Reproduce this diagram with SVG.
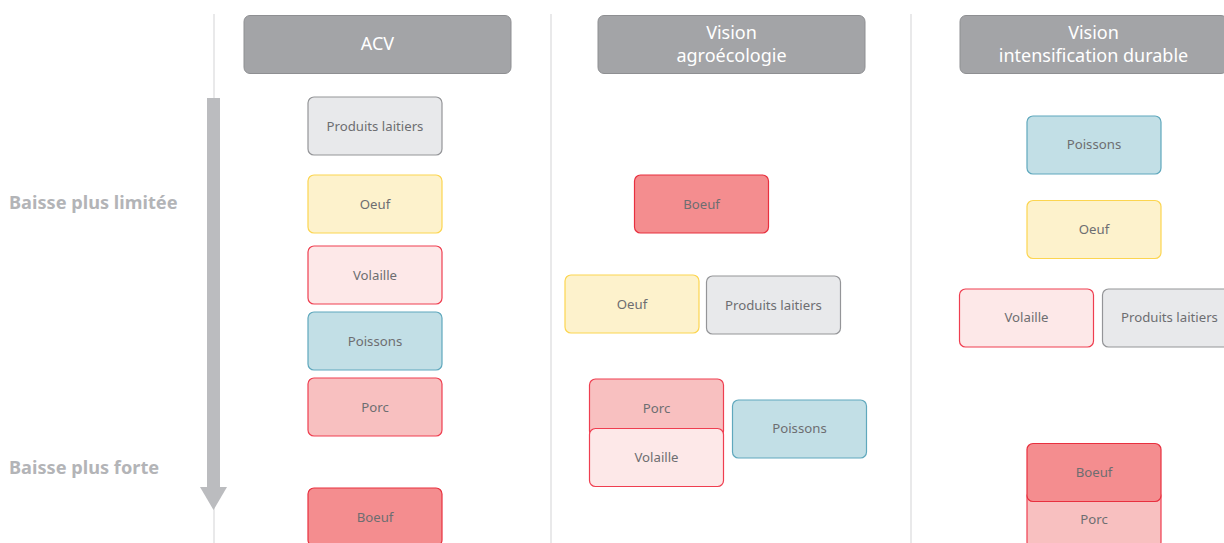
<svg xmlns="http://www.w3.org/2000/svg" width="1224" height="543" viewBox="0 0 1224 543">
<style>
.sep{stroke:#e9e9ea;stroke-width:2;fill:none}
.hdr{fill:#a3a4a7;stroke:#8e8f92;stroke-width:1}
.ht{font-family:"Noto Sans","Open Sans",sans-serif;font-size:18px;fill:#ffffff;text-anchor:middle}
.side{font-family:"Noto Sans","Open Sans",sans-serif;font-size:18.2px;font-weight:bold;fill:#b3b4b7}
.bt{font-family:"Noto Sans","Open Sans",sans-serif;font-size:13.2px;fill:#6d6e71;text-anchor:middle}
.lait{fill:#e8e9eb;stroke:#949598;stroke-width:1.2}
.oeuf{fill:#fdf2cc;stroke:#fcd550;stroke-width:1.2}
.vol{fill:#fde8e8;stroke:#ef3e50;stroke-width:1.2}
.poi{fill:#c2dfe6;stroke:#5fa8bd;stroke-width:1.2}
.porc{fill:#f8c0c0;stroke:#ef3e50;stroke-width:1.2}
.boeuf{fill:#f48d8f;stroke:#e8303f;stroke-width:1.2}
</style>
<rect width="1224" height="543" fill="#ffffff"/>
<g id="separators">
<line class="sep" x1="214" y1="14" x2="214" y2="543"/>
<line class="sep" x1="551" y1="14" x2="551" y2="543"/>
<line class="sep" x1="911" y1="14" x2="911" y2="543"/>
</g>
<g id="scale-arrow">
<rect x="207" y="98" width="13" height="390" fill="#bbbcbf"/>
<polygon points="200,487 227,487 213.5,510" fill="#bbbcbf"/>
</g>
<g id="side-labels">
<text class="side" x="9" y="209">Baisse plus limitée</text>
<text class="side" x="9" y="474">Baisse plus forte</text>
</g>
<g id="header-acv">
<rect class="hdr" x="244" y="15.5" width="267" height="58" rx="6"/>
<text class="ht" x="377.5" y="50">ACV</text>
</g>
<g id="header-agro">
<rect class="hdr" x="598" y="15.5" width="267" height="58" rx="6"/>
<text class="ht" x="731.5" y="39">Vision</text>
<text class="ht" x="731.5" y="61.5">agroécologie</text>
</g>
<g id="header-intens">
<rect class="hdr" x="960" y="15.5" width="267" height="58" rx="6"/>
<text class="ht" x="1093.5" y="39">Vision</text>
<text class="ht" x="1093.5" y="61.5">intensification durable</text>
</g>
<g id="acv-lait"><rect class="lait" x="308" y="97" width="134" height="58" rx="6"/><text class="bt" x="375" y="130.5">Produits laitiers</text></g>
<g id="acv-oeuf"><rect class="oeuf" x="308" y="175" width="134" height="58" rx="6"/><text class="bt" x="375" y="208.5">Oeuf</text></g>
<g id="acv-volaille"><rect class="vol" x="308" y="246" width="134" height="58" rx="6"/><text class="bt" x="375" y="279.5">Volaille</text></g>
<g id="acv-poissons"><rect class="poi" x="308" y="312" width="134" height="58" rx="6"/><text class="bt" x="375" y="345.5">Poissons</text></g>
<g id="acv-porc"><rect class="porc" x="308" y="378" width="134" height="58" rx="6"/><text class="bt" x="375" y="411.5">Porc</text></g>
<g id="acv-boeuf"><rect class="boeuf" x="308" y="488" width="134" height="58" rx="6"/><text class="bt" x="375" y="521.5">Boeuf</text></g>
<g id="agro-boeuf"><rect class="boeuf" x="634.5" y="175" width="134" height="58" rx="6"/><text class="bt" x="701.5" y="208.5">Boeuf</text></g>
<g id="agro-oeuf"><rect class="oeuf" x="565" y="275" width="134" height="58" rx="6"/><text class="bt" x="632" y="308.5">Oeuf</text></g>
<g id="agro-lait"><rect class="lait" x="706.5" y="276" width="134" height="58" rx="6"/><text class="bt" x="773.5" y="309.5">Produits laitiers</text></g>
<g id="agro-porc"><rect class="porc" x="589.5" y="379" width="134" height="58" rx="6"/><text class="bt" x="656.5" y="412.5">Porc</text></g>
<g id="agro-volaille"><rect class="vol" x="589.5" y="428.5" width="134" height="58" rx="6"/><text class="bt" x="656.5" y="461.5">Volaille</text></g>
<g id="agro-poissons"><rect class="poi" x="732.5" y="400" width="134" height="58" rx="6"/><text class="bt" x="799.5" y="433">Poissons</text></g>
<g id="int-poissons"><rect class="poi" x="1027" y="116" width="134" height="58" rx="6"/><text class="bt" x="1094" y="149">Poissons</text></g>
<g id="int-oeuf"><rect class="oeuf" x="1027" y="200.5" width="134" height="58" rx="6"/><text class="bt" x="1094" y="233.5">Oeuf</text></g>
<g id="int-volaille"><rect class="vol" x="959.5" y="289" width="134" height="58" rx="6"/><text class="bt" x="1026.5" y="322">Volaille</text></g>
<g id="int-lait"><rect class="lait" x="1102.5" y="289" width="134" height="58" rx="6"/><text class="bt" x="1169.5" y="322">Produits laitiers</text></g>
<g id="int-porc"><rect class="porc" x="1027" y="490" width="134" height="58" rx="6"/><text class="bt" x="1094" y="524">Porc</text></g>
<g id="int-boeuf"><rect class="boeuf" x="1027" y="443.5" width="134" height="58" rx="6"/><text class="bt" x="1094" y="476.5">Boeuf</text></g>
</svg>
